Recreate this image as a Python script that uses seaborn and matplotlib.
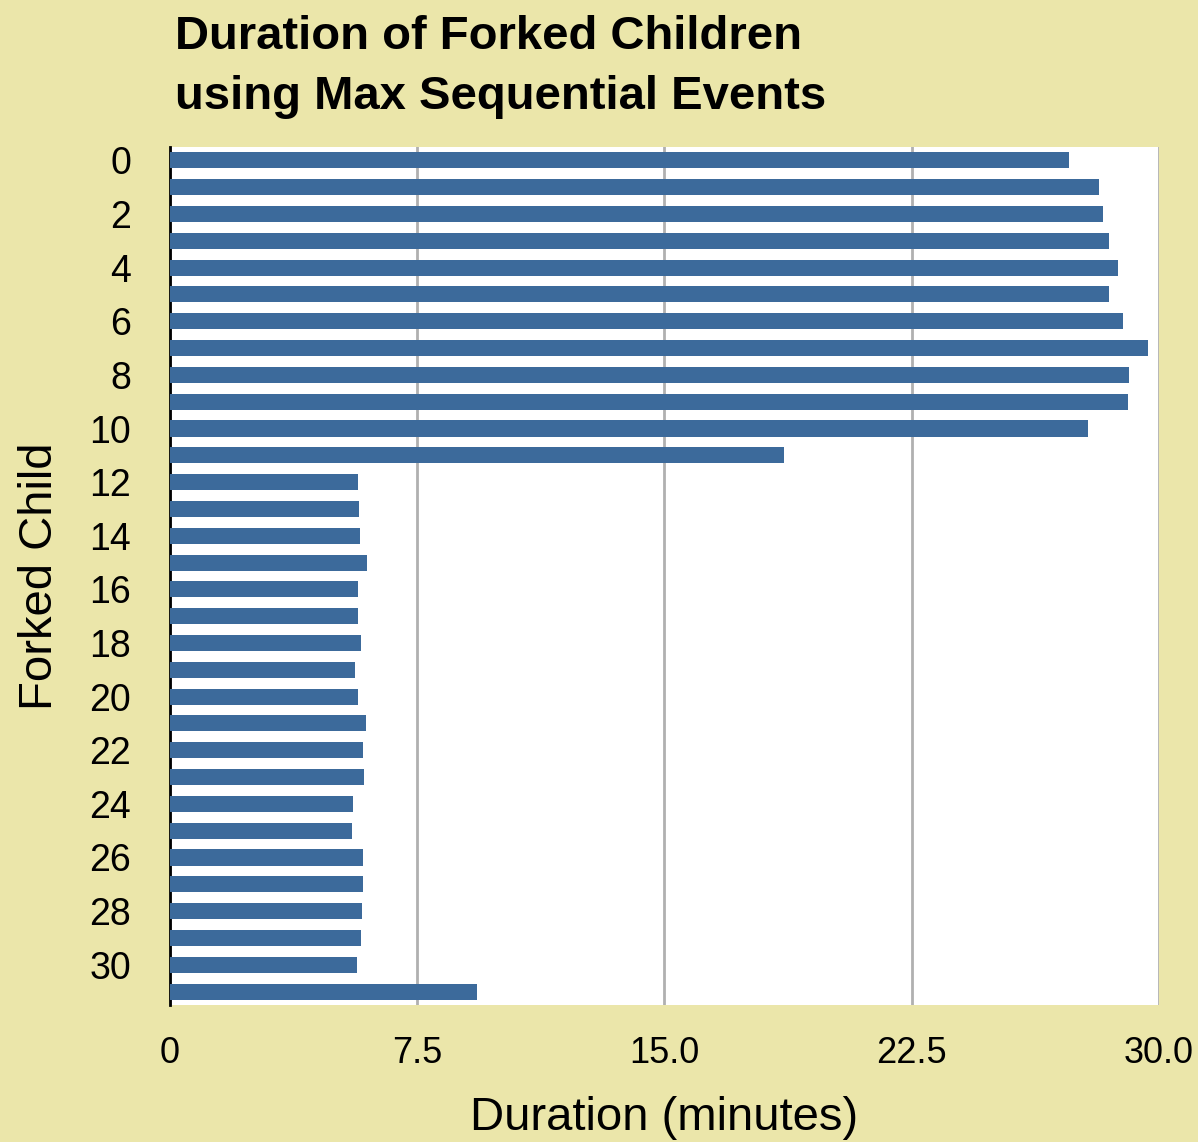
import seaborn as sns
import matplotlib.pyplot as plt

children = list(range(32))
durations = [27.28, 28.19, 28.29, 28.50, 28.77, 28.50, 28.90, 29.68,
             29.08, 29.05, 27.86, 18.63, 5.71, 5.74, 5.77, 5.98,
             5.71, 5.71, 5.80, 5.62, 5.71, 5.95, 5.86, 5.89,
             5.55, 5.52, 5.86, 5.86, 5.83, 5.80, 5.68, 9.32]
x_ticks = [0, 7.5, 15.0, 22.5, 30.0]
x_labels = ['0', '7.5', '15.0', '22.5', '30.0']

bg = '#ebe6aa'
bar_color = '#3c6a9b'

plt.rcParams['font.family'] = ['Liberation Sans', 'DejaVu Sans']

fig = plt.figure(figsize=(11.98, 11.42), dpi=100, facecolor=bg)
ax = fig.add_axes([0.1419, 0.12, 0.8255, 0.7513])
ax.set_facecolor('white')

sns.barplot(x=durations, y=[str(c) for c in children], order=[str(c) for c in children],
            orient='h', color=bar_color, saturation=1, width=0.6, ax=ax, zorder=3)

ax.set_xlim(0, 30)
ax.set_ylim(31.5, -0.5)
ax.set_xticks(x_ticks)
ax.set_xticklabels(x_labels, fontsize=26)
ax.set_yticks(children)
ax.set_yticklabels([str(c) if c % 2 == 0 else '' for c in children], fontsize=27)
ax.tick_params(axis='both', length=0)
ax.tick_params(axis='x', pad=22)
ax.tick_params(axis='y', pad=28)

ax.grid(axis='x', color='#b0b0b0', linewidth=2, zorder=0)
ax.set_axisbelow(True)
for s in ['top', 'right', 'bottom']:
    ax.spines[s].set_visible(False)
ax.spines['left'].set_color('black')
ax.spines['left'].set_linewidth(2)

ax.set_xlabel('Duration (minutes)', fontsize=34, labelpad=18)
ax.set_ylabel('Forked Child', fontsize=34, labelpad=20)

fig.text(0.146, 0.896, 'Duration of Forked Children\nusing Max Sequential Events',
         fontsize=34, fontweight='bold', ha='left', va='bottom', linespacing=1.45)

plt.savefig('out.png', dpi=100, facecolor=bg)
